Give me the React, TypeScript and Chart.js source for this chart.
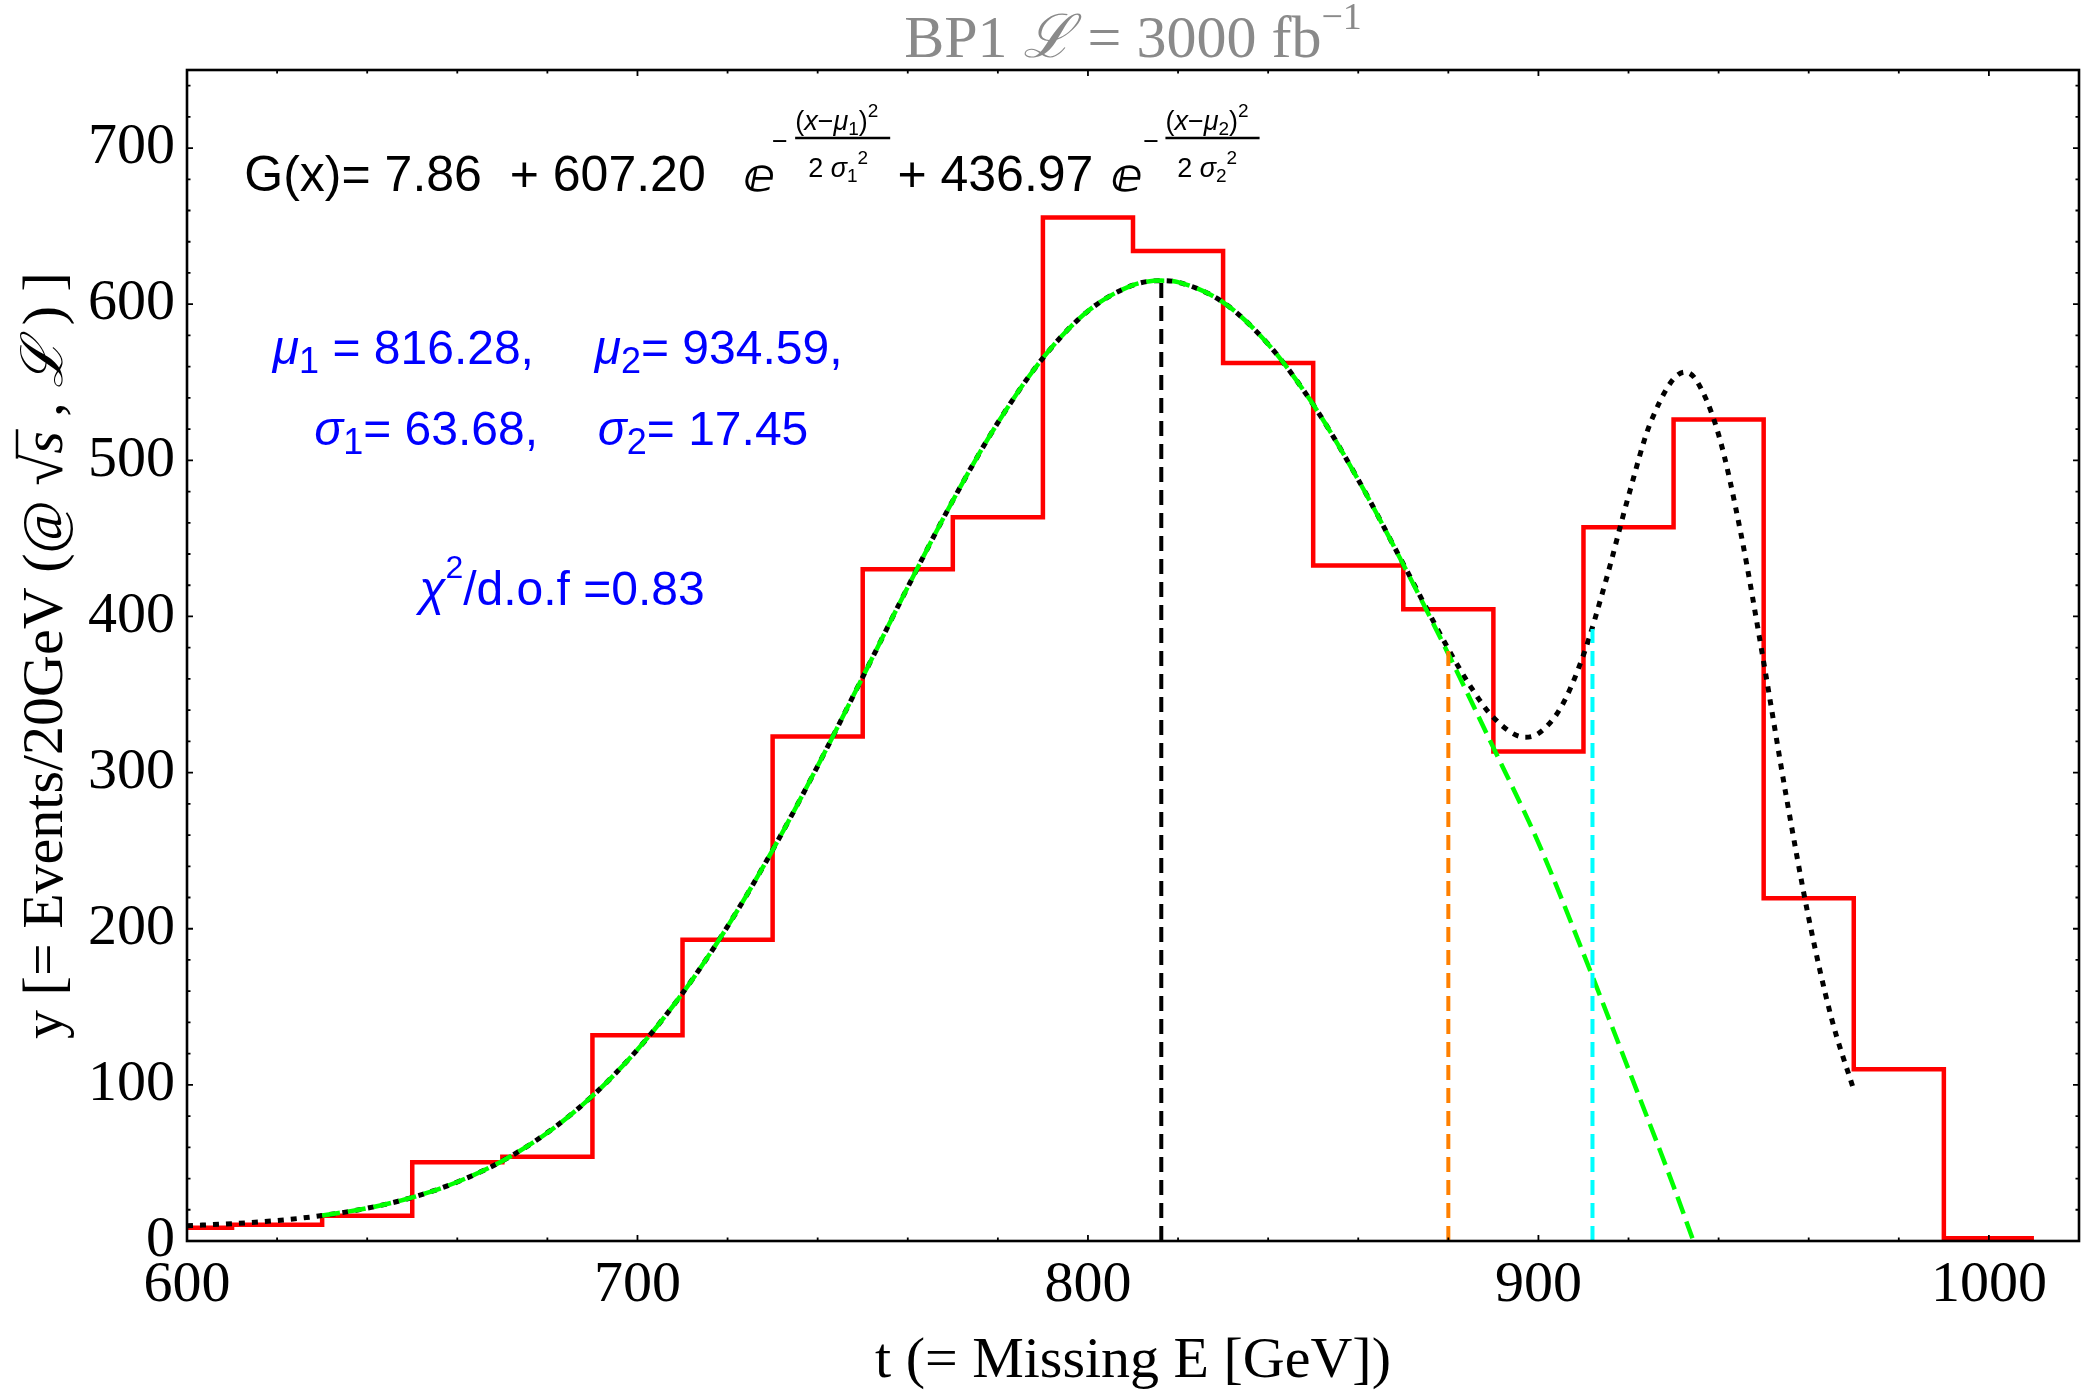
import React, { useEffect, useRef } from 'react';
import { Chart, registerables } from 'chart.js';

Chart.register(...registerables);

// ---------------- data ----------------
const binCenters = [600, 620, 640, 660, 680, 700, 720, 740, 760, 780, 800, 820, 840, 860, 880, 900, 920, 940, 960, 980, 1000];
const binCounts = [8.5, 10.4, 16.2, 50.4, 54.0, 131.8, 193.0, 323.2, 430.2, 463.6, 655.6, 634.1, 562.3, 432.6, 404.6, 313.5, 457.2, 526.2, 219.5, 110.0, 1.7];
const binWidth = 20;

// full fit G(x) (black dotted)
const fitX = [600, 610, 620, 630, 640, 650, 660, 670, 680, 690, 700, 710, 720, 730, 740, 750, 760, 770, 780, 790, 800, 810, 816.3, 820, 830, 840, 850, 860, 870, 880, 885, 890, 897, 900, 905, 910, 915, 920, 925, 932.5, 935, 940, 945, 950, 955, 960, 965, 970];
const fitY = [9.8, 11.1, 13.1, 16.3, 21.0, 27.9, 37.8, 51.3, 69.4, 92.9, 122.6, 158.7, 201.5, 250.4, 304.2, 361.2, 418.8, 474.2, 524.1, 565.5, 595.6, 612.2, 615.1, 614.1, 601.2, 574.4, 535.7, 487.6, 433.7, 379.2, 354.8, 335.3, 322.7, 325.1, 341.8, 375.4, 423.2, 477.2, 525.0, 556.5, 551.5, 516.4, 452.3, 370.8, 285.0, 206.9, 143.3, 96.7];

// first component (green dashed)
const peak1X = [630, 640, 650, 660, 670, 680, 690, 700, 710, 720, 730, 740, 750, 760, 770, 780, 790, 800, 810, 816.3, 820, 830, 840, 850, 860, 870, 880, 890, 900, 910, 920, 930, 934.4];
const peak1Y = [16.3, 21.0, 27.9, 37.8, 51.3, 69.3, 92.9, 122.6, 158.7, 201.5, 250.4, 304.2, 361.2, 418.8, 474.2, 524.1, 565.5, 595.6, 612.2, 615.1, 614.1, 601.2, 574.4, 535.7, 487.5, 433.3, 376.0, 316.0, 255.0, 184.0, 110.0, 35.0, 0];

// vertical marker lines
const markerX = [816.28, 880.0, 912.0];
const markerTop = [615.1, 378.0, 392.0];
const markerColors = ['#000000', '#ff8000', '#00ffff'];

const xTickValues = [600, 700, 800, 900, 1000];
const yTickValues = [0, 100, 200, 300, 400, 500, 600, 700];

// ---------------- fonts ----------------
const SANS = '"Liberation Sans", Arial, sans-serif';
const SERIF = '"Liberation Serif", "Times New Roman", serif';

type Seg = { t: string; f: string; dy?: number };

function runWidth(ctx: CanvasRenderingContext2D, segs: Seg[]) {
  let w = 0;
  for (const s of segs) {
    ctx.font = s.f;
    w += ctx.measureText(s.t).width;
  }
  return w;
}

function drawRun(ctx: CanvasRenderingContext2D, x: number, y: number, segs: Seg[]) {
  let cx = x;
  const pos: number[] = [];
  for (const s of segs) {
    ctx.font = s.f;
    pos.push(cx);
    ctx.fillText(s.t, cx, y + (s.dy || 0));
    cx += ctx.measureText(s.t).width;
  }
  pos.push(cx);
  return pos;
}

const decorPlugin = {
  id: 'decor',
  afterDatasetsDraw(chart: any) {
    const { ctx, chartArea } = chart;
    const xs = chart.scales.x;
    const ys = chart.scales.y;
    const { left, right, top, bottom } = chartArea;
    ctx.save();
    ctx.strokeStyle = '#000';
    // ticks
    ctx.lineWidth = 1.8;
    for (let v = 600; v <= 1020; v += 20) {
      const p = xs.getPixelForValue(v);
      const len = v % 100 === 0 ? 6 : 3.5;
      ctx.beginPath();
      ctx.moveTo(p, bottom); ctx.lineTo(p, bottom - len);
      ctx.moveTo(p, top); ctx.lineTo(p, top + len);
      ctx.stroke();
    }
    for (let v = 0; v <= 750; v += 20) {
      const p = ys.getPixelForValue(v);
      const len = v % 100 === 0 ? 6 : 3.5;
      ctx.beginPath();
      ctx.moveTo(left, p); ctx.lineTo(left + len, p);
      ctx.moveTo(right, p); ctx.lineTo(right - len, p);
      ctx.stroke();
    }
    // frame
    ctx.lineWidth = 2.6;
    ctx.strokeRect(left, top, right - left, bottom - top);
    ctx.restore();
  },
  afterDraw(chart: any) {
    const { ctx, chartArea } = chart;
    const xs = chart.scales.x;
    const ys = chart.scales.y;
    const X = (v: number) => xs.getPixelForValue(v);
    const Y = (v: number) => ys.getPixelForValue(v);
    const { left, right, top, bottom } = chartArea;
    const cx = (left + right) / 2;
    ctx.save();
    ctx.textAlign = 'left';
    ctx.textBaseline = 'alphabetic';

    // ---- title ----
    ctx.fillStyle = '#8a8a8a';
    const tSegs: Seg[] = [
      { t: 'BP1 ', f: `60px ${SERIF}` },
      { t: 'ℒ', f: `italic 60px ${SERIF}` },
      { t: ' = 3000 fb', f: `60px ${SERIF}` },
      { t: '−1', f: `38px ${SERIF}`, dy: -28 },
    ];
    const tw = runWidth(ctx, tSegs);
    drawRun(ctx, cx - tw / 2, top - 13, tSegs);

    // ---- x title ----
    ctx.fillStyle = '#000';
    const xt: Seg[] = [{ t: 't (= Missing E [GeV])', f: `58px ${SERIF}` }];
    const xw = runWidth(ctx, xt);
    drawRun(ctx, cx - xw / 2, bottom + 136, xt);

    // ---- y title (rotated) ----
    const yt: Seg[] = [
      { t: 'y [= Events/20GeV (@ ', f: `58px ${SERIF}` },
      { t: '√', f: `58px ${SERIF}` },
      { t: 's', f: `italic 58px ${SERIF}` },
      { t: ' , ', f: `58px ${SERIF}` },
      { t: 'ℒ', f: `italic 58px ${SERIF}` },
      { t: ' ) ]', f: `58px ${SERIF}` },
    ];
    ctx.save();
    ctx.translate(62, (top + bottom) / 2);
    ctx.rotate(-Math.PI / 2);
    const yw = runWidth(ctx, yt);
    const pos = drawRun(ctx, -yw / 2, 0, yt);
    ctx.lineWidth = 2.5;
    ctx.strokeStyle = '#000';
    ctx.beginPath();
    ctx.moveTo(pos[1] + (pos[2] - pos[1]) * 0.85, -45);
    ctx.lineTo(pos[3] + 2, -45);
    ctx.stroke();
    ctx.restore();

    // ---- formula ----
    ctx.fillStyle = '#000';
    ctx.strokeStyle = '#000';
    const FM = `50px ${SANS}`;
    const FE = `27px ${SANS}`;
    const FEI = `italic 27px ${SANS}`;
    const FS = `19px ${SANS}`;
    const yb = Y(672.4);
    drawRun(ctx, X(612.72), yb, [{ t: 'G(x)= 7.86  + 607.20', f: FM }]);
    drawRun(ctx, X(757.7), yb, [{ t: '+ 436.97', f: FM }]);
    const expo = (xe: number, xm: number, xn0: number, xn1: number, xd: number, k: string) => {
      drawRun(ctx, X(xe), yb, [{ t: 'ⅇ', f: `bold 46px "DejaVu Sans", ${SANS}` }]);
      drawRun(ctx, X(xm), Y(698.7), [{ t: '−', f: FE }]);
      drawRun(ctx, X(xn0), Y(711.6), [
        { t: '(', f: FE }, { t: 'x', f: FEI }, { t: '−', f: FE }, { t: 'μ', f: FEI },
        { t: k, f: FS, dy: 5 }, { t: ')', f: FE }, { t: '2', f: FS, dy: -13 },
      ]);
      ctx.lineWidth = 2.5;
      ctx.beginPath();
      ctx.moveTo(X(xn0), Y(706.4));
      ctx.lineTo(X(xn1), Y(706.4));
      ctx.stroke();
      drawRun(ctx, X(xd), Y(681.5), [
        { t: '2 ', f: FE }, { t: 'σ', f: FEI }, { t: k, f: FS, dy: 5 }, { t: '2', f: FS, dy: -13 },
      ]);
    };
    expo(723.67, 729.89, 735.0, 756.1, 737.9, '1');
    expo(805.2, 812.3, 817.2, 838.1, 819.8, '2');

    // ---- blue parameters ----
    ctx.fillStyle = '#0000ff';
    const B = `48px ${SANS}`;
    const BI = `italic 48px ${SANS}`;
    const BS = `36px ${SANS}`;
    drawRun(ctx, X(619.04), Y(561.4), [{ t: 'μ', f: BI }, { t: '1', f: BS, dy: 9 }, { t: ' = 816.28,', f: B }]);
    drawRun(ctx, X(690.5), Y(561.4), [{ t: 'μ', f: BI }, { t: '2', f: BS, dy: 9 }, { t: '= 934.59,', f: B }]);
    drawRun(ctx, X(628.25), Y(510.1), [{ t: 'σ', f: BI }, { t: '1', f: BS, dy: 9 }, { t: '= 63.68,', f: B }]);
    drawRun(ctx, X(691.2), Y(510.1), [{ t: 'σ', f: BI }, { t: '2', f: BS, dy: 9 }, { t: '= 17.45', f: B }]);
    drawRun(ctx, X(651.55), Y(407.1), [{ t: 'χ', f: BI }, { t: '2', f: `32px ${SANS}`, dy: -27 }, { t: '/d.o.f =0.83', f: B }]);

    ctx.restore();
  },
};

export default function App() {
  const ref = useRef<HTMLCanvasElement | null>(null);
  useEffect(() => {
    document.body.style.margin = '0';
    if (!ref.current) return;

    const edges = binCenters.map((c) => c - binWidth / 2).concat([binCenters[binCenters.length - 1] + binWidth / 2]);
    const histPts = edges.map((e, i) => ({ x: e, y: binCounts[Math.min(i, binCounts.length - 1)] }));
    const fitPts = fitX.map((x, i) => ({ x, y: fitY[i] }));
    const peak1Pts = peak1X.map((x, i) => ({ x, y: peak1Y[i] }));

    const markerSets = markerX.map((x, i) => ({
      label: 'marker' + i,
      data: [{ x, y: 0 }, { x, y: markerTop[i] }],
      borderColor: markerColors[i],
      borderWidth: 4,
      borderDash: [15, 8],
      pointRadius: 0,
      order: 0,
    }));

    const chart = new Chart(ref.current, {
      type: 'line',
      data: {
        datasets: [
          ...markerSets,
          {
            label: 'first component',
            data: peak1Pts,
            borderColor: '#00ff00',
            borderWidth: 4.5,
            borderDash: [18, 8],
            pointRadius: 0,
            cubicInterpolationMode: 'monotone',
            order: 1,
          },
          {
            label: 'G(x)',
            data: fitPts,
            borderColor: '#000000',
            borderWidth: 5,
            borderDash: [6, 7],
            pointRadius: 0,
            cubicInterpolationMode: 'monotone',
            order: 2,
          },
          {
            label: 'histogram',
            data: histPts,
            borderColor: '#ff0000',
            borderWidth: 4.5,
            stepped: 'before',
            pointRadius: 0,
            order: 3,
          },
        ] as any,
      },
      options: {
        animation: false,
        responsive: true,
        maintainAspectRatio: false,
        layout: { padding: { top: 70, right: 4, left: 0, bottom: 0 } },
        plugins: { legend: { display: false }, tooltip: { enabled: false }, title: { display: false } },
        scales: {
          x: {
            type: 'linear',
            min: 600,
            max: 1020,
            afterBuildTicks: (s: any) => { s.ticks = xTickValues.map((v) => ({ value: v })); },
            afterFit: (s: any) => { s.height = 153; },
            grid: { display: false, drawTicks: false },
            border: { display: false },
            ticks: {
              font: { family: 'Liberation Serif', size: 58 },
              color: '#000',
              padding: 10,
              maxRotation: 0,
              autoSkip: false,
              callback: (v: any) => String(v),
            },
          },
          y: {
            type: 'linear',
            min: 0,
            max: 750,
            afterBuildTicks: (s: any) => { s.ticks = yTickValues.map((v) => ({ value: v })); },
            afterFit: (s: any) => { s.width = 187; },
            grid: { display: false, drawTicks: false },
            border: { display: false },
            ticks: {
              font: { family: 'Liberation Serif', size: 58 },
              color: '#000',
              padding: 12,
              autoSkip: false,
              callback: (v: any) => String(v),
            },
          },
        },
      } as any,
      plugins: [decorPlugin],
    });
    return () => chart.destroy();
  }, []);

  return (
    <div style={{ width: 2083, height: 1394, position: 'relative', background: '#fff' }}>
      <canvas ref={ref} />
    </div>
  );
}
